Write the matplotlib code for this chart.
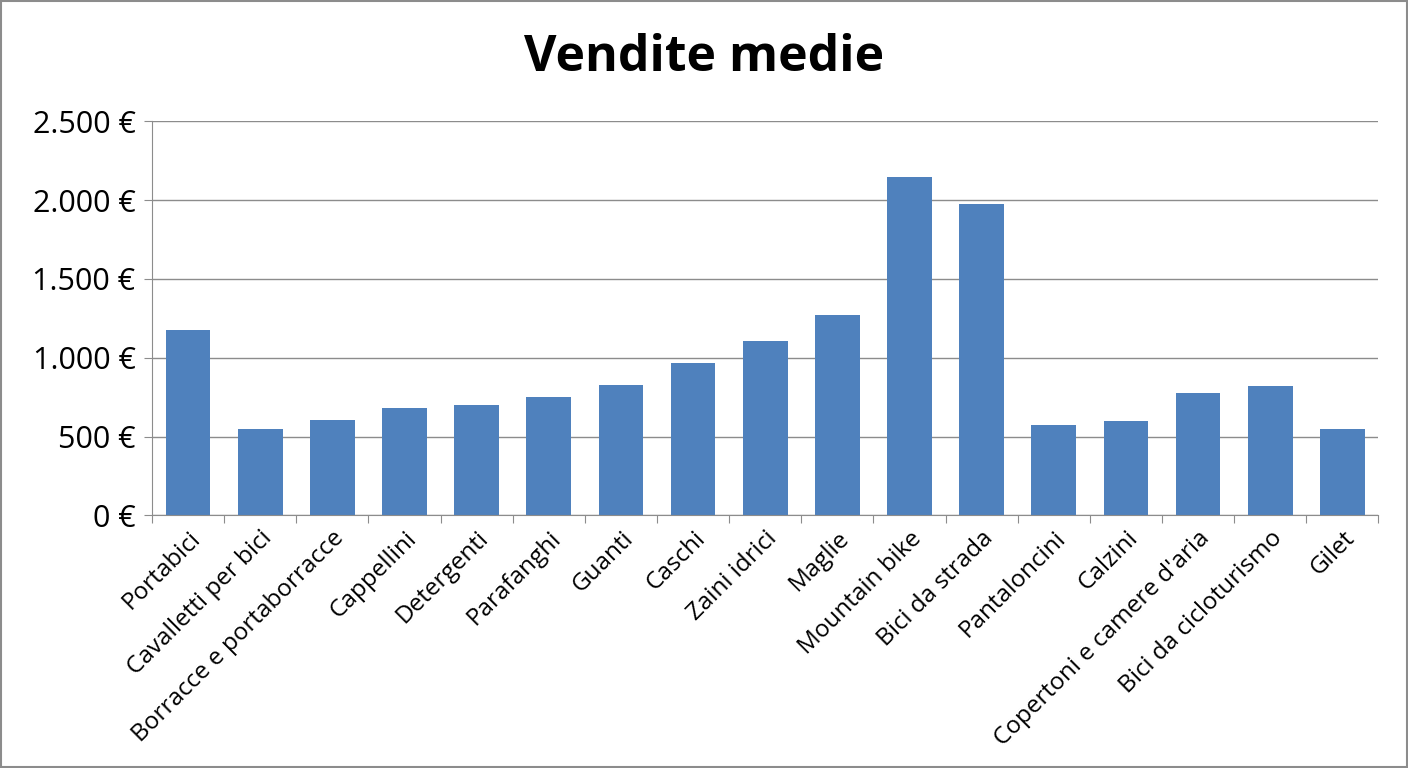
import matplotlib
matplotlib.use("Agg")
import matplotlib.pyplot as plt
from matplotlib.patches import Rectangle

categories = ["Portabici", "Cavalletti per bici", "Borracce e portaborracce", "Cappellini",
              "Detergenti", "Parafanghi", "Guanti", "Caschi", "Zaini idrici", "Maglie",
              "Mountain bike", "Bici da strada", "Pantaloncini", "Calzini",
              "Copertoni e camere d'aria", "Bici da cicloturismo", "Gilet"]
values = [1175, 546, 603, 679, 698, 749, 825, 964, 1104, 1269,
          2145, 1973, 571, 596, 774, 818, 546]
yticks = [0, 500, 1000, 1500, 2000, 2500]
ytick_labels = ["0 €", "500 €", "1.000 €", "1.500 €", "2.000 €", "2.500 €"]

plt.rcParams['font.family'] = ['Open Sans', 'DejaVu Sans']
fig = plt.figure(figsize=(14.08, 7.68), dpi=100)
ax = fig.add_axes([0.108, 0.329, 0.871, 0.513])
x = range(len(categories))
ax.bar(x, values, width=0.62, color="#4F81BD", zorder=2)
ax.set_xlim(-0.5, len(categories) - 0.5)
ax.set_ylim(0, 2500)
ax.set_yticks(yticks)
ax.set_yticklabels(ytick_labels, fontsize=22)
ax.yaxis.grid(True, color="#8c8c8c", linewidth=1, zorder=0)
ax.set_xticks([i - 0.5 for i in range(len(categories) + 1)], minor=False)
ax.set_xticklabels([])
ax.set_xticks(list(x), minor=True)
ax.set_xticklabels(categories, minor=True, rotation=45, ha="right",
                   rotation_mode="anchor", fontsize=17.5)
ax.tick_params(axis="x", which="minor", length=0, pad=8)
ax.tick_params(axis="x", which="major", length=6, color="#8c8c8c")
ax.tick_params(axis="y", length=6, color="#8c8c8c", pad=6)
for s in ["top", "right"]:
    ax.spines[s].set_visible(False)
ax.spines["left"].set_color("#8c8c8c")
ax.spines["bottom"].set_color("#8c8c8c")
fig.text(0.5, 0.925, "Vendite medie", ha="center", va="center",
         fontsize=36, fontweight="bold")
fig.patches.append(Rectangle((0.001, 0.001), 0.998, 0.998, transform=fig.transFigure,
                             fill=False, edgecolor="#8c8c8c", linewidth=1.5))
fig.savefig("out.png", dpi=100)
